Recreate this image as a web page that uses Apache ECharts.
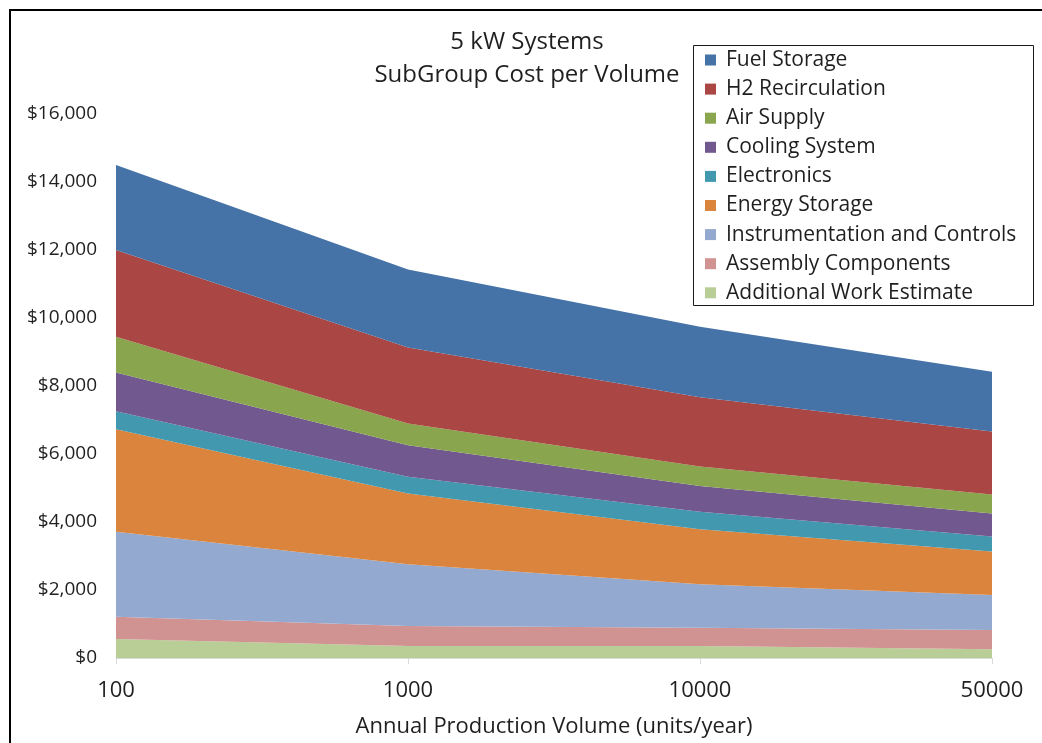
<!DOCTYPE html>
<html>
<head>
<meta charset="utf-8">
<title>5 kW Systems – SubGroup Cost per Volume</title>
<script src="https://cdn.jsdelivr.net/npm/echarts@6/dist/echarts.min.js"></script>
<style>
  html, body { margin: 0; padding: 0; background: #ffffff; }
  #chart { width: 1042px; height: 743px; }
</style>
</head>
<body>
<div id="chart"></div>
<script>
// Annual production volume categories (units/year)
const volumes = ['100', '1000', '10000', '50000'];

// Cost per subgroup at each volume, in dollars
const fuelStorage       = [2500, 2300, 2070, 1760];
const h2Recirculation   = [2550, 2230, 2040, 1850];
const airSupply         = [1050, 640, 570, 560];
const coolingSystem     = [1140, 930, 760, 680];
const electronics       = [530, 490, 510, 440];
const energyStorage     = [3020, 2080, 1620, 1280];
const instrumentation   = [2500, 1820, 1280, 1030];
const assemblyParts     = [650, 590, 540, 560];
const additionalWork    = [560, 350, 350, 260];

// Y axis ticks
const yMin = 0, yMax = 16000, yStep = 2000;

// Stack order from the bottom up
const layers = [
  { name: 'Additional Work Estimate',     data: additionalWork,  color: '#B9CD96' },
  { name: 'Assembly Components',          data: assemblyParts,   color: '#D19392' },
  { name: 'Instrumentation and Controls', data: instrumentation, color: '#93A9CF' },
  { name: 'Energy Storage',               data: energyStorage,   color: '#DB843D' },
  { name: 'Electronics',                  data: electronics,     color: '#4198AF' },
  { name: 'Cooling System',               data: coolingSystem,   color: '#71588F' },
  { name: 'Air Supply',                   data: airSupply,       color: '#89A54E' },
  { name: 'H2 Recirculation',             data: h2Recirculation, color: '#AA4643' },
  { name: 'Fuel Storage',                 data: fuelStorage,     color: '#4572A7' }
];

const FONT = "'Open Sans', 'Noto Sans', sans-serif";
const TEXT = '#1f1f1f';

const chart = echarts.init(document.getElementById('chart'), null, { renderer: 'canvas' });

chart.setOption({
  backgroundColor: '#ffffff',
  animation: false,
  textStyle: { fontFamily: FONT },
  graphic: [
    {
      type: 'rect',
      shape: { x: 10, y: 10, width: 1100, height: 800 },
      style: { fill: 'none', stroke: '#000000', lineWidth: 2 },
      silent: true,
      z: 100
    },
    {
      type: 'rect',
      shape: { x: 693.5, y: 45.5, width: 340, height: 260 },
      style: { fill: 'none', stroke: '#1a1a1a', lineWidth: 1 },
      silent: true,
      z: 100
    }
  ],
  title: {
    text: '5 kW Systems\nSubGroup Cost per Volume',
    left: 527,
    top: 25.5,
    padding: 0,
    textAlign: 'center',
    textStyle: {
      fontFamily: FONT,
      fontSize: 24,
      fontWeight: 'normal',
      color: TEXT,
      lineHeight: 33
    }
  },
  legend: {
    orient: 'vertical',
    left: 705,
    top: 49.5,
    padding: 0,
    itemWidth: 11,
    itemHeight: 11,
    itemGap: 8.1,
    icon: 'rect',
    data: layers.slice().reverse().map(l => l.name),
    textStyle: {
      fontFamily: FONT,
      fontSize: 21,
      color: TEXT,
      lineHeight: 20,
      padding: [0, 0, 0, 5]
    }
  },
  grid: {
    left: 116,
    right: 50,
    top: 114,
    bottom: 85,
    containLabel: false
  },
  xAxis: {
    type: 'category',
    data: volumes,
    boundaryGap: false,
    name: 'Annual Production Volume (units/year)',
    nameLocation: 'middle',
    nameGap: 58,
    nameTextStyle: { fontFamily: FONT, fontSize: 22, color: TEXT },
    axisLine: { show: true, lineStyle: { color: '#d9d9d9', width: 1 } },
    axisTick: { show: true, alignWithLabel: true, length: 6, lineStyle: { color: '#d9d9d9' } },
    axisLabel: { fontFamily: FONT, fontSize: 22, color: TEXT, margin: 22 },
    splitLine: { show: false }
  },
  yAxis: {
    type: 'value',
    min: yMin,
    max: yMax,
    interval: yStep,
    axisLine: { show: false },
    axisTick: { show: false },
    splitLine: { show: false },
    axisLabel: {
      fontFamily: FONT,
      fontSize: 19,
      color: TEXT,
      margin: 19,
      formatter: v => '$' + v.toLocaleString('en-US')
    }
  },
  series: layers.map(l => ({
    name: l.name,
    type: 'line',
    stack: 'cost',
    data: l.data,
    symbol: 'none',
    smooth: false,
    lineStyle: { width: 0 },
    itemStyle: { color: l.color },
    areaStyle: { color: l.color, opacity: 1 },
    emphasis: { disabled: true }
  }))
});
</script>
</body>
</html>
